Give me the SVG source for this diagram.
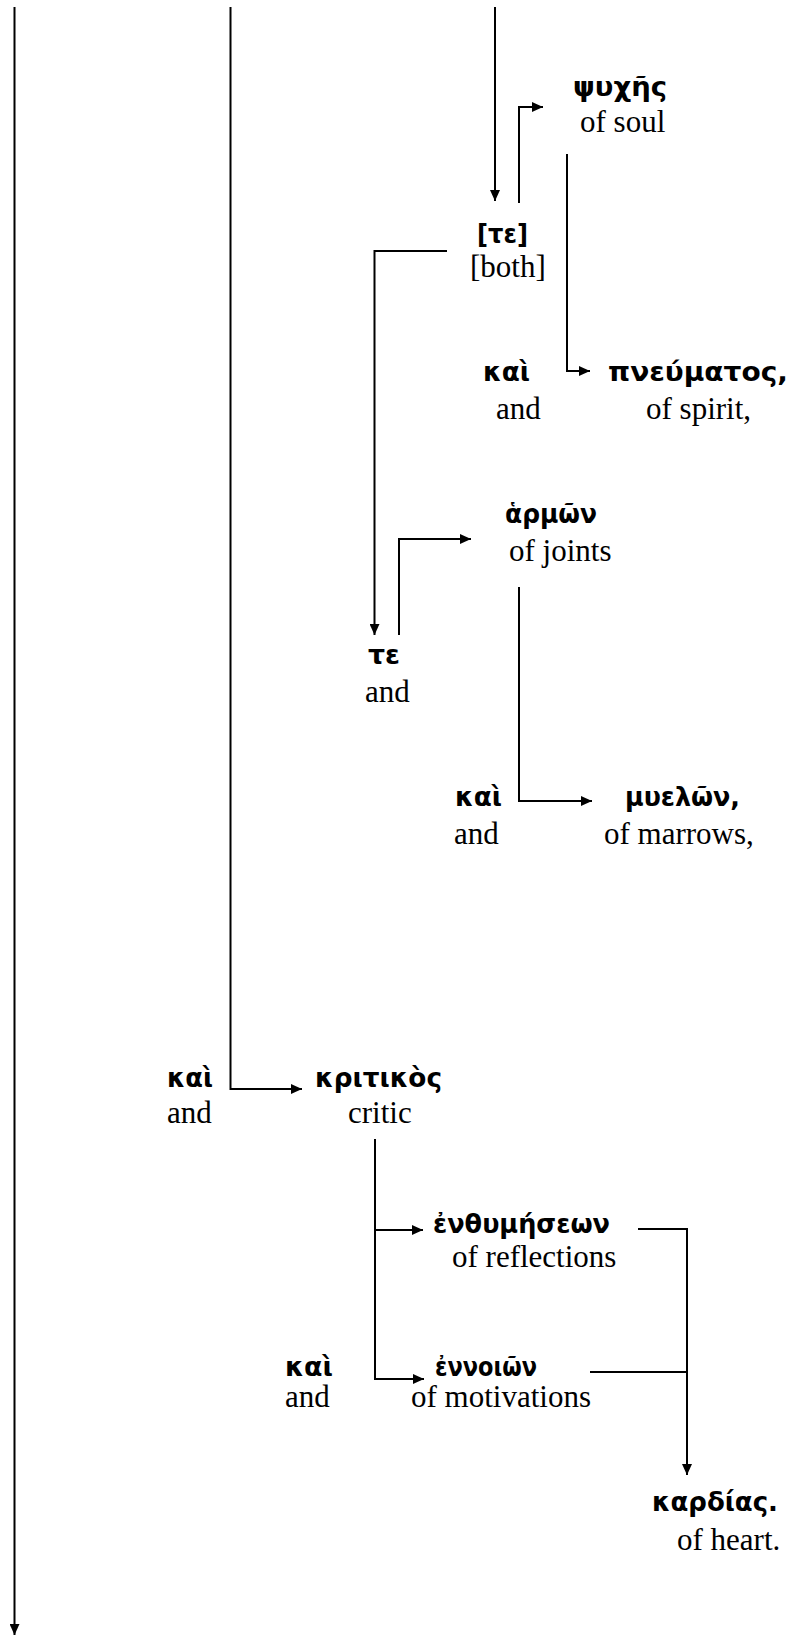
<svg xmlns="http://www.w3.org/2000/svg" width="799" height="1635" viewBox="0 0 799 1635">
<style>
.g{font-family:"DejaVu Sans","Noto Sans",sans-serif;font-weight:bold;font-size:27px;fill:#000}
.e{font-family:"Liberation Serif","Times New Roman",serif;font-size:31px;fill:#000}
.c path{fill:none;stroke:#000;stroke-width:2;marker-end:url(#ah)}
.c path.n{marker-end:none}
</style>
<defs>
<marker id="ah" markerUnits="userSpaceOnUse" markerWidth="11" markerHeight="10" refX="11" refY="5" orient="auto">
<path d="M0,0 L11,5 L0,10 z" fill="#000"/>
</marker>
</defs>
<rect width="799" height="1635" fill="#fff"/>
<g class="c" id="connectors">
<path d="M14.5,7 V1635"/>
<path d="M230.5,7 V1089 H302"/>
<path d="M495,7 V201"/>
<path d="M519,203 V107 H543"/>
<path d="M567,154 V371 H590"/>
<path d="M447,251 H374.5 V635"/>
<path d="M399,635 V539 H471"/>
<path d="M519,587 V801 H592"/>
<path d="M375,1139 V1379 H424"/>
<path d="M375,1230 H423"/>
<path d="M638,1229 H687 V1475"/>
<path class="n" d="M590,1372 H687"/>
</g>
<g id="psyches"><text class="g" x="573" y="96" textLength="94" lengthAdjust="spacingAndGlyphs">ψυχῆς</text><text class="e" x="580" y="132">of soul</text></g>
<g id="te1"><text class="g" x="477" y="243" textLength="51" lengthAdjust="spacingAndGlyphs">[τε]</text><text class="e" x="470" y="277">[both]</text></g>
<g id="kai1"><text class="g" x="483" y="381" textLength="47" lengthAdjust="spacingAndGlyphs">καὶ</text><text class="e" x="496" y="419">and</text></g>
<g id="pneumatos"><text class="g" x="608" y="381" textLength="180" lengthAdjust="spacingAndGlyphs">πνεύματος,</text><text class="e" x="646" y="419">of spirit,</text></g>
<g id="harmon"><text class="g" x="505" y="523" textLength="92" lengthAdjust="spacingAndGlyphs">ἁρμῶν</text><text class="e" x="509" y="561">of joints</text></g>
<g id="te2"><text class="g" x="368" y="664" textLength="32" lengthAdjust="spacingAndGlyphs">τε</text><text class="e" x="365" y="702">and</text></g>
<g id="kai2"><text class="g" x="455" y="806" textLength="47" lengthAdjust="spacingAndGlyphs">καὶ</text><text class="e" x="454" y="844">and</text></g>
<g id="muelon"><text class="g" x="625" y="806" textLength="115" lengthAdjust="spacingAndGlyphs">μυελῶν,</text><text class="e" x="604" y="844">of marrows,</text></g>
<g id="kai3"><text class="g" x="167" y="1087" textLength="46" lengthAdjust="spacingAndGlyphs">καὶ</text><text class="e" x="167" y="1123">and</text></g>
<g id="kritikos"><text class="g" x="315" y="1087" textLength="127" lengthAdjust="spacingAndGlyphs">κριτικὸς</text><text class="e" x="348" y="1123">critic</text></g>
<g id="enthumeseon"><text class="g" x="433" y="1233" textLength="177" lengthAdjust="spacingAndGlyphs">ἐνθυμήσεων</text><text class="e" x="452" y="1267">of reflections</text></g>
<g id="kai4"><text class="g" x="285" y="1376" textLength="48" lengthAdjust="spacingAndGlyphs">καὶ</text><text class="e" x="285" y="1407">and</text></g>
<g id="ennoion"><text class="g" x="435" y="1376" textLength="102" lengthAdjust="spacingAndGlyphs">ἐννοιῶν</text><text class="e" x="411" y="1407">of motivations</text></g>
<g id="kardias"><text class="g" x="652" y="1511" textLength="126" lengthAdjust="spacingAndGlyphs">καρδίας.</text><text class="e" x="677" y="1550">of heart.</text></g>
</svg>
